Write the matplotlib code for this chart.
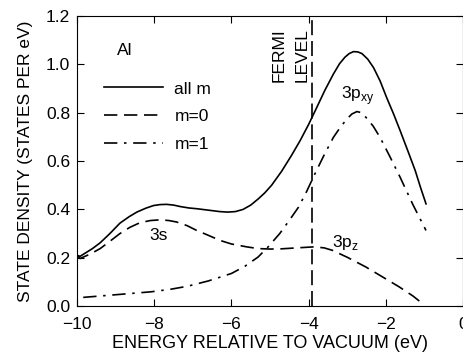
import numpy as np
import matplotlib
matplotlib.use("Agg")
import matplotlib.pyplot as plt

plt.rcParams['font.family'] = ['Liberation Sans', 'DejaVu Sans']

# curves (energy in eV, density in states per eV)
e_all = [-10.0, -9.92, -9.6, -9.40, -9.15, -8.89, -8.65, -8.45, -8.22, -8.02, -7.85,
         -7.68, -7.5, -7.33, -7.1, -6.90, -6.6, -6.3, -6.1, -5.9, -5.7, -5.5, -5.31,
         -5.14, -4.96, -4.7, -4.45, -4.22, -4.0, -3.79, -3.58, -3.36, -3.2, -3.06,
         -2.95, -2.84, -2.73, -2.62, -2.47, -2.32, -2.15, -1.98, -1.8, -1.63, -1.43,
         -1.24, -1.1, -0.96]
d_all = [0.21, 0.206, 0.238, 0.262, 0.300, 0.343, 0.370, 0.389, 0.405, 0.416, 0.420,
         0.421, 0.418, 0.412, 0.406, 0.403, 0.397, 0.391, 0.389, 0.391, 0.400, 0.418,
         0.443, 0.468, 0.500, 0.558, 0.622, 0.685, 0.752, 0.822, 0.893, 0.960, 1.003,
         1.030, 1.045, 1.053, 1.052, 1.045, 1.022, 0.987, 0.932, 0.863, 0.795, 0.726,
         0.642, 0.561, 0.49, 0.423]

e_m0 = [-10.0, -9.92, -9.65, -9.40, -9.15, -8.89, -8.63, -8.37, -8.1, -7.85, -7.62,
        -7.42, -7.15, -6.90, -6.6, -6.3, -6.0, -5.6, -5.31, -5.0, -4.7, -4.3, -3.87,
        -3.6, -3.39, -3.0, -2.52, -2.1, -1.66, -1.3, -1.0]
d_m0 = [0.21, 0.197, 0.216, 0.238, 0.268, 0.300, 0.326, 0.345, 0.354, 0.357, 0.354,
        0.348, 0.333, 0.313, 0.293, 0.272, 0.257, 0.245, 0.238, 0.236, 0.237, 0.241,
        0.245, 0.241, 0.231, 0.202, 0.162, 0.122, 0.080, 0.042, 0.004]

e_m1 = [-9.84, -9.0, -8.09, -7.6, -7.14, -6.6, -6.0, -5.65, -5.31, -5.05, -4.75,
        -4.5, -4.26, -4.05, -3.83, -3.6, -3.36, -3.18, -3.01, -2.88, -2.75, -2.62,
        -2.50, -2.33, -2.15, -1.9, -1.63, -1.3, -0.96]
d_m1 = [0.036, 0.047, 0.059, 0.069, 0.082, 0.104, 0.135, 0.165, 0.203, 0.245, 0.300,
        0.355, 0.41, 0.475, 0.550, 0.625, 0.698, 0.740, 0.774, 0.795, 0.805, 0.800,
        0.778, 0.745, 0.698, 0.620, 0.533, 0.420, 0.313]

fermi = -3.91

fig = plt.figure(figsize=(4.64, 3.58), dpi=100)
ax = fig.add_axes([0.166, 0.145, 0.832, 0.81])

lw = 1.2
ax.plot(e_all, d_all, color='black', lw=lw, label='all m')
ax.plot(e_m0, d_m0, color='black', lw=lw, dashes=(8, 4), label='m=0')
ax.plot(e_m1, d_m1, color='black', lw=lw, dashes=(8, 4, 1.5, 4), label='m=1')
ax.axvline(fermi, color='black', lw=lw, dashes=(9, 3.5))

ax.set_xlim(-10, 0)
ax.set_ylim(0, 1.2)
ax.set_xticks([-10, -8, -6, -4, -2, 0])
ax.set_xticklabels(['\u221210', '\u22128', '\u22126', '\u22124', '\u22122', '0'])
ax.set_yticks([0.0, 0.2, 0.4, 0.6, 0.8, 1.0, 1.2])
ax.tick_params(direction='in', top=True, right=True, labelsize=12.5, length=5)
ax.tick_params(axis='x', pad=8)
ax.tick_params(axis='y', pad=5)

ax.set_xlabel('ENERGY RELATIVE TO VACUUM (eV)', fontsize=13, labelpad=2)
ax.set_ylabel('STATE DENSITY (STATES PER eV)', fontsize=12.5, labelpad=9)

fs = 12.5
ax.text(-8.96, 1.056, 'Al', fontsize=fs, ha='left', va='center')
ax.text(-7.9, 0.293, '3s', fontsize=fs, ha='center', va='center')
ax.text(-2.72, 0.87, r'3p$_{\mathregular{xy}}$', fontsize=fs, ha='center', va='center')
ax.text(-3.05, 0.265, r'3p$_{\mathregular{z}}$', fontsize=fs, ha='center', va='center')
ax.text(-4.77, 1.15, 'FERMI', fontsize=fs, rotation=90, ha='center', va='top')
ax.text(-4.17, 1.15, 'LEVEL', fontsize=fs, rotation=90, ha='center', va='top')

ax.legend(loc='upper left', bbox_to_anchor=(0.07, 0.775), frameon=False,
          fontsize=fs, handlelength=3.4, handletextpad=0.65, labelspacing=0.72,
          borderpad=0, borderaxespad=0)

fig.savefig('out.png', dpi=100)
